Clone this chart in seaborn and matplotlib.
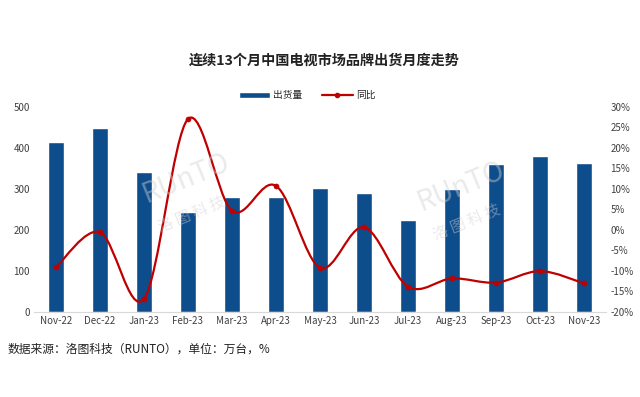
import numpy as np
import pandas as pd
import matplotlib
matplotlib.use("Agg")
import matplotlib.pyplot as plt
from matplotlib.path import Path
from matplotlib.patches import PathPatch, Patch
from matplotlib.lines import Line2D
import seaborn as sns

months = ["Nov-22", "Dec-22", "Jan-23", "Feb-23", "Mar-23", "Apr-23", "May-23",
          "Jun-23", "Jul-23", "Aug-23", "Sep-23", "Oct-23", "Nov-23"]
shipments = [415, 449, 341, 244, 279, 279, 302, 290, 224, 300, 360, 379, 362]
yoy = [-9.2, -0.6, -16.9, 27.0, 4.6, 10.7, -9.3, 0.6, -13.9, -11.9, -12.9, -10.1, -13.1]

left_ticks = [0, 100, 200, 300, 400, 500]
right_ticks = list(range(-20, 31, 5))

bar_color = "#0E4D8C"
line_color = "#C00000"

sns.set_style("white")
plt.rcParams['font.family'] = ['Noto Sans CJK SC', 'DejaVu Sans']

df = pd.DataFrame({'month': months, 'shipments': shipments, 'yoy': yoy})

fig = plt.figure(figsize=(6.4, 3.97), dpi=100)
ax = fig.add_axes([0.053, 0.215, 0.894, 0.516])

sns.barplot(data=df, x='month', y='shipments', color=bar_color, width=0.36,
            saturation=1, ax=ax)
ax.set_ylim(0, 500)
ax.set_xlim(-0.5, 12.5)
ax.set_yticks(left_ticks)
ax.set_xlabel("")
ax.set_ylabel("")
ax.tick_params(axis='both', labelsize=7, colors='#404040', length=0, pad=3)
for s in ['top', 'right', 'left']:
    ax.spines[s].set_visible(False)
ax.spines['bottom'].set_color('#D9D9D9')

ax2 = ax.twinx()
ax2.set_ylim(-20, 30)
ax2.set_yticks(right_ticks)
ax2.set_yticklabels([f"{t}%" for t in right_ticks])
ax2.tick_params(axis='y', labelsize=7, colors='#404040', length=0, pad=3)
for s in ax2.spines.values():
    s.set_visible(False)

# smoothed line (Catmull-Rom as Bezier, like Excel smooth line)
xs = np.arange(len(yoy), dtype=float)
pts = np.column_stack([xs, np.array(yoy, dtype=float)])
verts = [pts[0]]
codes = [Path.MOVETO]
n = len(pts)
for i in range(n - 1):
    p0 = pts[i - 1] if i > 0 else pts[i]
    p1 = pts[i]
    p2 = pts[i + 1]
    p3 = pts[i + 2] if i + 2 < n else pts[i + 1]
    c1 = p1 + (p2 - p0) / 6.0
    c2 = p2 - (p3 - p1) / 6.0
    verts += [c1, c2, p2]
    codes += [Path.CURVE4] * 3
ax2.add_patch(PathPatch(Path(verts, codes), facecolor='none',
                        edgecolor=line_color, lw=1.6, zorder=3))
sns.scatterplot(x=xs, y=yoy, color=line_color, s=14, edgecolor=line_color,
                zorder=4, ax=ax2, legend=False)

# watermark
for wx, wy in [(0.29, 0.50), (0.72, 0.48)]:
    fig.text(wx, wy + 0.05, "RUnTO", fontsize=20, color='#D0D0D0', alpha=0.45,
             rotation=22, style='italic', ha='center', va='center', zorder=0)
    fig.text(wx + 0.01, wy - 0.04, "洛 图 科 技", fontsize=11, color='#D0D0D0',
             alpha=0.45, rotation=22, ha='center', va='center', zorder=0)

fig.text(0.506, 0.847, "连续13个月中国电视市场品牌出货月度走势", fontsize=10.2,
         fontweight='bold', ha='center', va='center', color='#222222')

handles = [Patch(facecolor=bar_color, label="出货量"),
           Line2D([0], [0], color=line_color, lw=1.6, marker='o', markersize=3,
                  label="同比")]
fig.legend(handles=handles, loc='center', bbox_to_anchor=(0.48, 0.76), ncol=2,
           frameon=False, fontsize=7, handlelength=3.2, handleheight=0.5,
           columnspacing=2.0, handletextpad=0.3)

fig.text(0.011, 0.12, "数据来源：洛图科技（RUNTO），单位：万台，%", fontsize=8.5,
         ha='left', va='center', color='#222222')

fig.savefig("out.png", dpi=100)
